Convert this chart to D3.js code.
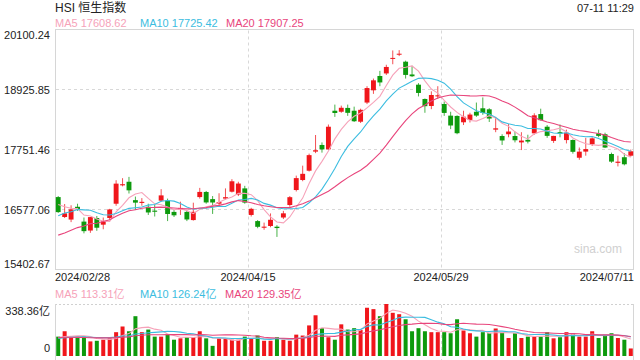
<!DOCTYPE html>
<html><head><meta charset="utf-8">
<script src="https://cdn.jsdelivr.net/npm/d3@7"></script>
<style>
body{margin:0;background:#fff;}
svg{display:block;font-family:"Liberation Sans",Arial,"Noto Sans CJK SC",sans-serif;}
</style>
</head><body>
<svg id="c" width="640" height="360"></svg>
<script>
// ---------- data ----------
const dates = ["02/28","02/29","03/01","03/04","03/05","03/06","03/07","03/08","03/11","03/12","03/13","03/14","03/15","03/18","03/19","03/20","03/21","03/22","03/25","03/26","03/27","03/28","04/02","04/03","04/05","04/08","04/09","04/10","04/11","04/12","04/15","04/16","04/17","04/18","04/19","04/22","04/23","04/24","04/25","04/26","04/29","04/30","05/02","05/03","05/06","05/07","05/08","05/09","05/10","05/13","05/14","05/16","05/17","05/20","05/21","05/22","05/23","05/24","05/27","05/28","05/29","05/30","05/31","06/03","06/04","06/05","06/06","06/07","06/11","06/12","06/13","06/14","06/17","06/18","06/19","06/20","06/21","06/24","06/25","06/26","06/27","06/28","07/02","07/03","07/04","07/05","07/08","07/09","07/10","07/11"];
const opens = [16830,16440,16390,16640,16350,16175,16420,16290,16420,16700,17060,17130,16770,16715,16640,16565,16760,16760,16540,16590,16540,16380,16830,16930,16790,16700,16800,16935,16880,17000,16480,16360,16230,16264,16250,16430,16675,16968,17164,17346,17720,17850,17765,18520,18500,18575,18520,18305,18680,18920,19200,19250,19540,19620,19480,19230,19030,18750,18613,18800,18652,18424,18418,18294,18340,18500,18568,18548,18150,18025,18060,18025,17900,17950,18078,18455,18207,17930,18100,17946,17947,17600,17720,17863,18078,18060,17673,17500,17610,17640];
const highs = [16850,16694,16670,16700,16430,16440,16460,16430,16600,17160,17200,17225,16840,16810,16700,16675,16985,16800,16580,16740,16560,16720,17010,16950,16850,16905,17000,17180,17130,17050,16620,16380,16330,16510,16280,16560,16850,17250,17445,17680,18045,17900,18250,18640,18620,18640,18600,18560,19000,19150,19300,19420,19700,19706,19500,19400,19060,18760,18900,19000,18700,18500,18430,18520,18480,18680,18780,18570,18400,18060,18260,18110,18100,18050,18470,18560,18240,18030,18250,18150,17960,17800,17990,18000,18150,18090,17700,17640,17690,17760];
const lows = [16520,16420,16340,16560,16120,16130,16170,16200,16380,16660,17040,16900,16580,16660,16480,16450,16740,16360,16440,16480,16360,16370,16800,16700,16500,16650,16780,16920,16850,16700,16450,16220,16190,16240,16050,16400,16640,16940,17140,17330,17690,17700,17750,18400,18480,18420,18300,18280,18650,18850,19000,19220,19430,19590,19150,19180,18800,18480,18550,18750,18420,18160,18060,18240,18290,18400,18440,18300,18100,17850,18000,17900,17750,17880,18050,18330,17990,17890,18000,17880,17680,17560,17640,17830,18000,17790,17500,17430,17450,17620];
const closes = [16536,16511,16589,16595,16163,16438,16230,16354,16588,17093,17082,16962,16721,16737,16529,16543,16863,16499,16473,16618,16392,16541,16931,16725,16724,16733,16828,17139,17095,16722,16600,16248,16251,16386,16224,16512,16828,17201,17285,17651,17747,17763,18207,18476,18578,18479,18314,18538,18964,19115,19074,19377,19554,19636,19221,19195,18868,18609,18828,18822,18477,18231,18080,18403,18445,18425,18476,18367,18176,17938,18113,17942,17936,17916,18430,18335,18028,18027,18072,18090,17716,17719,17769,17979,18028,17800,17524,17523,17472,17726];
const volumes = [126,161,122,126,126,95,99,106,115,155,192,161,259,155,172,126,126,139,106,115,122,122,161,115,66,115,115,106,106,126,115,133,99,99,122,106,99,139,133,199,265,181,122,106,206,172,181,170,314,305,259,338.36,281,272,239,161,181,161,155,155,155,148,239,166,148,126,155,148,179,155,117,148,117,126,126,126,155,115,122,155,148,126,126,161,117,133,148,117,106,49];
// closes / volumes of the 19 sessions before the first one (for the moving averages)
const priorCloses = [15703,15485,15566,15533,15510,16082,15708,15878,15746,15879,15944,16340,16156,16248,16503,16743,16726,16635,16790];
const priorVolumes = [105,130,140,150,120,110,95,130,125,140,115,105,100,110,125,120,110,115,120];
const priceTicks = [20100.24,18925.85,17751.46,16577.06,15402.67];
const volMax = 338.36;
const maPeriods = [5,10,20];
const maPriceText = ["17608.62","17725.42","17907.25"];
const maVolText = ["113.31亿","126.24亿","129.35亿"];
const axisDateIdx = [0,30,60,89];

// ---------- layout ----------
const L=55, R=634, T=29.5, B=269.5;
const VT=304, VB=356;
const RED="#f0161b", GREEN="#0d9a0d";
const maColors=["#f6a2b9","#3cbde0","#e8457c"];
const n=closes.length;
const svg=d3.select("#c");

const x=d3.scaleBand().domain(d3.range(n)).range([L,R]).paddingInner(0.24).paddingOuter(0.12);
const y=d3.scaleLinear().domain([priceTicks[4],priceTicks[0]]).range([B+0.5,T+0.5]);
const yv=d3.scaleLinear().domain([0,volMax]).range([VB,VT]);
const cx=i=>x(i)+x.bandwidth()/2;

function ma(vals,prior,k){
  const all=prior.concat(vals);
  const off=prior.length;
  return vals.map((v,i)=>d3.mean(all.slice(off+i-k+1,off+i+1)));
}

// header
svg.append("text").attr("x",55).attr("y",12).attr("font-size",12).attr("fill","#222").text("HSI 恒生指数");
svg.append("text").attr("x",634).attr("y",12).attr("text-anchor","end").attr("font-size",11).attr("fill","#222").text("07-11 11:29");
const legX=[55,140,226];
maPeriods.forEach((p,k)=>{
  svg.append("text").attr("x",legX[k]).attr("y",27).attr("font-size",11).attr("fill",maColors[k]).text("MA"+p+" "+maPriceText[k]);
});

// price frame & grid
const g=svg.append("g");
g.append("rect").attr("x",L+0.5).attr("y",T).attr("width",R-L-1).attr("height",B-T).attr("fill","none").attr("stroke","#d6d6d6");
priceTicks.slice(1,4).forEach(v=>{
  g.append("line").attr("x1",L+1).attr("x2",R-1).attr("y1",Math.round(y(v))-0.5).attr("y2",Math.round(y(v))-0.5).attr("stroke","#d8d8d8").attr("stroke-dasharray","3,3");
});
axisDateIdx.slice(1,3).forEach(i=>{
  const xx=Math.round(x.step()*i+L)+0.5;
  g.append("line").attr("x1",xx).attr("x2",xx).attr("y1",T+1).attr("y2",B-1).attr("stroke","#d8d8d8").attr("stroke-dasharray","3,3");
});
// price labels
priceTicks.forEach((v,k)=>{
  let yy=y(v);
  if(k===0) yy+=5; else if(k===4) yy-=6;
  svg.append("text").attr("x",50).attr("y",yy+4).attr("text-anchor","end").attr("font-size",11).attr("fill","#222").text(v.toFixed(2));
});

// date labels
axisDateIdx.forEach((i,k)=>{
  const xx = k===0? L : (k===3? R : x.step()*i+L);
  svg.append("text").attr("x",xx).attr("y",281).attr("font-size",11).attr("fill","#222")
    .attr("text-anchor",k===0?"start":(k===3?"end":"middle")).text("2024/"+dates[i]);
});

// watermark
svg.append("text").attr("x",622).attr("y",253).attr("text-anchor","end").attr("font-size",12).attr("fill","#d0d0d0").text("sina.com");

// candles
const up=i=>closes[i]>=opens[i];
const cg=svg.append("g");
cg.selectAll("line.w").data(d3.range(n)).join("line")
  .attr("x1",cx).attr("x2",cx).attr("y1",i=>y(highs[i])).attr("y2",i=>y(lows[i]))
  .attr("stroke",i=>up(i)?RED:GREEN).attr("stroke-width",1).attr("opacity",0.75);
cg.selectAll("rect").data(d3.range(n)).join("rect")
  .attr("x",i=>x(i)).attr("width",x.bandwidth())
  .attr("y",i=>y(Math.max(opens[i],closes[i])))
  .attr("height",i=>Math.max(1,Math.abs(y(opens[i])-y(closes[i]))))
  .attr("fill",i=>up(i)?RED:GREEN);

// price MAs
maPeriods.forEach((p,k)=>{
  const m=ma(closes,priorCloses,p);
  svg.append("path").attr("d",d3.line().x((d,i)=>cx(i)).y(d=>y(d))(m))
    .attr("fill","none").attr("stroke",maColors[k]).attr("stroke-width",1.1);
});

// volume legend
const vlegX=[55,140,225];
maPeriods.forEach((p,k)=>{
  svg.append("text").attr("x",vlegX[k]).attr("y",298).attr("font-size",11).attr("fill",maColors[k]).text("MA"+p+" "+maVolText[k]);
});
svg.append("text").attr("x",50).attr("y",315).attr("text-anchor","end").attr("font-size",11).attr("fill","#222").text(volMax.toFixed(2)+"亿");
svg.append("text").attr("x",50).attr("y",352).attr("text-anchor","end").attr("font-size",11).attr("fill","#222").text("0");

// volume frame
svg.append("line").attr("x1",L).attr("x2",R).attr("y1",VT+0.5).attr("y2",VT+0.5).attr("stroke","#d0d0d0").attr("stroke-dasharray","2,2");
svg.append("line").attr("x1",L+0.5).attr("x2",L+0.5).attr("y1",VT).attr("y2",360).attr("stroke","#d6d6d6");
svg.append("line").attr("x1",R-0.5).attr("x2",R-0.5).attr("y1",VT).attr("y2",360).attr("stroke","#d6d6d6");
axisDateIdx.slice(1,3).forEach(i=>{
  const xx=Math.round(x.step()*i+L)+0.5;
  svg.append("line").attr("x1",xx).attr("x2",xx).attr("y1",VT+1).attr("y2",360).attr("stroke","#d8d8d8").attr("stroke-dasharray","3,3");
});

// volume bars
const vw=4;
svg.append("g").selectAll("rect").data(d3.range(n)).join("rect")
  .attr("x",i=>cx(i)-vw/2).attr("width",vw)
  .attr("y",i=>yv(volumes[i])).attr("height",i=>VB-yv(volumes[i]))
  .attr("fill",i=>up(i)?RED:GREEN);

// volume MAs
maPeriods.forEach((p,k)=>{
  const m=ma(volumes,priorVolumes,p);
  svg.append("path").attr("d",d3.line().x((d,i)=>cx(i)).y(d=>yv(d))(m))
    .attr("fill","none").attr("stroke",maColors[k]).attr("stroke-width",1.1);
});
</script>
</body></html>
